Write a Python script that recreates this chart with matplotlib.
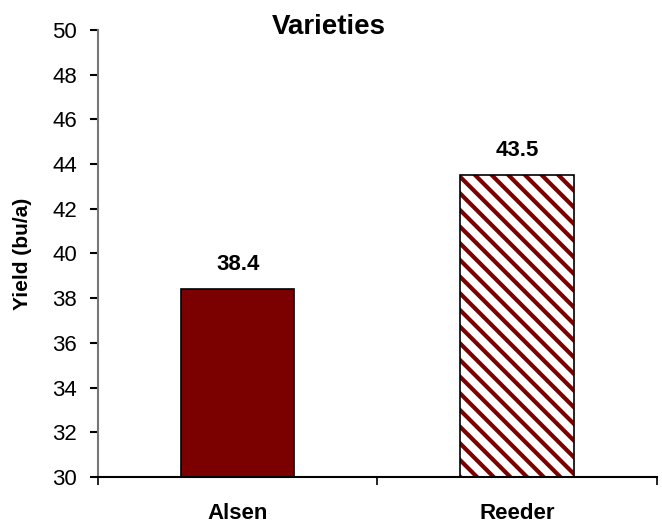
import numpy as np
import matplotlib
matplotlib.use("Agg")
import matplotlib.pyplot as plt

plt.rcParams['font.family'] = ['Liberation Sans', 'DejaVu Sans']
plt.rcParams['hatch.linewidth'] = 3.0

varieties = ["Alsen", "Reeder"]
yields = [38.4, 43.5]
labels = ["38.4", "43.5"]
yticks = list(range(30, 51, 2))

red = "#7b0000"

fig = plt.figure(figsize=(6.62, 5.27), dpi=100)
ax = fig.add_axes([0.148, 0.095, 0.844, 0.848])

x = np.arange(len(varieties))
ax.bar(x[0], yields[0] - 30, bottom=30, width=0.405, color=red,
       edgecolor="black", linewidth=1.2)
ax.bar(x[1], yields[1] - 30, bottom=30, width=0.405, color="white",
       edgecolor=red, hatch="\\\\", linewidth=0)
# outline drawn separately so the hatch keeps its red colour
ax.bar(x[1], yields[1] - 30, bottom=30, width=0.405, fill=False,
       edgecolor="black", linewidth=1.2)

for xi, v, lab in zip(x, yields, labels):
    ax.text(xi, v + 0.65, lab, ha="center", va="bottom",
            fontsize=16, fontweight="bold")

ax.set_xlim(-0.5, 1.5)
ax.set_ylim(30, 50)
ax.set_yticks(yticks)
ax.set_xticks(x)
ax.set_xticklabels(varieties, fontsize=16, fontweight="bold")
ax.set_xticks([-0.5, 0.5, 1.5], minor=True)
ax.tick_params(axis="x", which="major", length=0, pad=19)
ax.tick_params(axis="x", which="minor", length=6, direction="out", width=1.2)
ax.tick_params(axis="y", length=6, width=1.5, direction="out", labelsize=16, pad=9)

for s in ["top", "right"]:
    ax.spines[s].set_visible(False)
ax.spines["left"].set_color("#777777")
ax.spines["left"].set_linewidth(1.5)
ax.spines["bottom"].set_linewidth(1.5)

ax.set_ylabel("Yield (bu/a)", fontsize=15, fontweight="bold")
ax.yaxis.set_label_coords(-0.118, 0.5)
fig.text(0.496, 0.949, "Varieties", ha="center", va="center",
         fontsize=20, fontweight="bold")

fig.savefig("out.png", dpi=100)
